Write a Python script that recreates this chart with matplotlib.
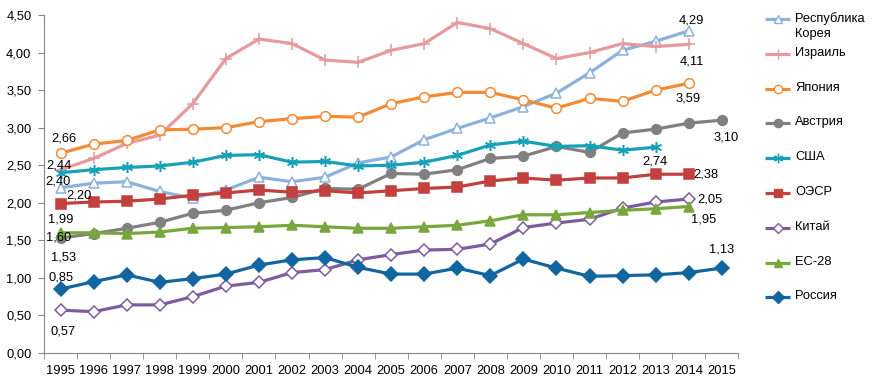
"""
Line chart: values by country, 1995-2015.
"""

import matplotlib
matplotlib.use("Agg")
from matplotlib import pyplot as plt
from matplotlib.lines import Line2D
from matplotlib.ticker import FuncFormatter

plt.rcParams["font.family"] = ["Liberation Sans", "DejaVu Sans"]
plt.rcParams["font.size"] = 9.3

years = [str(y) for y in range(1995, 2016)]

korea = [2.20, 2.26, 2.28, 2.15, 2.06, 2.17, 2.34, 2.28, 2.34, 2.53, 2.61,
         2.84, 2.99, 3.13, 3.28, 3.46, 3.73, 4.03, 4.15, 4.29]
israel = [2.44, 2.59, 2.79, 2.90, 3.32, 3.92, 4.18, 4.12, 3.90, 3.87, 4.03,
          4.12, 4.40, 4.32, 4.12, 3.92, 4.00, 4.12, 4.08, 4.11]
japan = [2.66, 2.78, 2.83, 2.97, 2.98, 3.00, 3.08, 3.12, 3.15, 3.14, 3.32,
         3.41, 3.47, 3.47, 3.37, 3.26, 3.39, 3.35, 3.50, 3.59]
austria = [1.53, 1.59, 1.66, 1.74, 1.86, 1.90, 2.00, 2.07, 2.19, 2.18, 2.39,
           2.38, 2.44, 2.59, 2.62, 2.75, 2.67, 2.93, 2.98, 3.06, 3.10]
usa = [2.40, 2.44, 2.47, 2.49, 2.54, 2.63, 2.64, 2.54, 2.55, 2.49, 2.50,
       2.54, 2.63, 2.77, 2.82, 2.75, 2.76, 2.70, 2.74]
oecd = [1.99, 2.01, 2.02, 2.05, 2.10, 2.13, 2.17, 2.14, 2.16, 2.13, 2.16,
        2.19, 2.21, 2.29, 2.33, 2.30, 2.33, 2.33, 2.38, 2.38]
china = [0.57, 0.55, 0.64, 0.64, 0.75, 0.89, 0.94, 1.07, 1.11, 1.24, 1.31,
         1.37, 1.38, 1.45, 1.67, 1.73, 1.78, 1.93, 2.01, 2.05]
eu28 = [1.60, 1.60, 1.59, 1.61, 1.66, 1.67, 1.68, 1.70, 1.68, 1.66, 1.66,
        1.68, 1.70, 1.76, 1.84, 1.84, 1.87, 1.90, 1.92, 1.95]
russia = [0.85, 0.95, 1.04, 0.94, 0.99, 1.05, 1.17, 1.24, 1.27, 1.14, 1.05,
          1.05, 1.13, 1.03, 1.25, 1.13, 1.02, 1.03, 1.04, 1.07, 1.13]

# name, values, color, marker, marker face, marker size,
# first label offset (px), last label offset (px)
series = [
    ("Республика\nКорея", korea, "#8DB1DD", "^", "white", 6.5, (18, -8), (3, 10)),
    ("Израиль", israel, "#E69A9B", "+", None, 8, (-2, 4), (3, -17)),
    ("Япония", japan, "#F58A35", "o", "white", 7, (3, 15), (-1, -15)),
    ("Австрия", austria, "#808080", "o", None, 7, (3, -19), (4, -17)),
    ("США", usa, "#17A1B7", (6, 2, 0), None, 8, (-3, -9), (-1, -14)),
    ("ОЭСР", oecd, "#C2413E", "s", None, 7, (0, -16), (17, 0)),
    ("Китай", china, "#7E5B9F", "D", "white", 6, (2, -21), (21, 0)),
    ("ЕС-28", eu28, "#79A73E", "^", None, 7, (-2, -5), (15, -13)),
    ("Россия", russia, "#11669F", "D", None, 7, (0, 12), (0, 19)),
]

W, H = 881, 390
fig = plt.figure(figsize=(W / 100, H / 100), dpi=100)
ax = fig.add_axes([0.05, 0.095, 0.788, 0.8665])

for k, (name, vals, color, marker, face, ms, off0, off1) in enumerate(series):
    x = list(range(len(vals)))
    style = dict(color=color, lw=2.3, marker=marker, ms=ms,
                 markerfacecolor=face if face else color, markeredgecolor=color,
                 markeredgewidth=1.1, solid_joinstyle="round")
    ax.plot(x, vals, **style)
    for i, off in ((0, off0), (len(vals) - 1, off1)):
        ax.annotate(f"{vals[i]:.2f}".replace(".", ","), (x[i], vals[i]),
                    xytext=off, textcoords="offset pixels",
                    ha="center", va="center", fontsize=9.3, color="black")

    # legend entry drawn by hand (Excel-like fixed row spacing)
    ly = 1 - (19 + k * 34.8) / H
    fig.add_artist(Line2D([765 / W, 790 / W], [ly, ly], transform=fig.transFigure,
                          color=color, lw=2.3, solid_capstyle="butt"))
    fig.add_artist(Line2D([777.5 / W], [ly], transform=fig.transFigure,
                          marker=marker, ms=ms * 0.85, markerfacecolor=style["markerfacecolor"],
                          markeredgecolor=color, markeredgewidth=1.0, lw=0))
    fig.text(795 / W, ly + 7 / H, name, ha="left", va="top", fontsize=9.3,
             linespacing=1.3)

ax.set_xlim(-0.5, len(years) - 0.5)
ax.set_ylim(0, 4.5)
ax.set_yticks([i * 0.5 for i in range(10)])
ax.yaxis.set_major_formatter(FuncFormatter(lambda v, p: f"{v:.2f}".replace(".", ",")))
ax.set_xticks(range(len(years)))
ax.set_xticklabels(years)
ax.set_xticks([i - 0.5 for i in range(len(years) + 1)], minor=True)
ax.tick_params(axis="x", which="major", length=0, pad=9)
ax.tick_params(axis="x", which="minor", length=4, color="#868686", direction="out")
ax.tick_params(axis="y", length=4, color="#868686", direction="out", pad=5)

for side in ("top", "right"):
    ax.spines[side].set_visible(False)
for side in ("left", "bottom"):
    ax.spines[side].set_color("#868686")

fig.savefig("out.png", dpi=100)
